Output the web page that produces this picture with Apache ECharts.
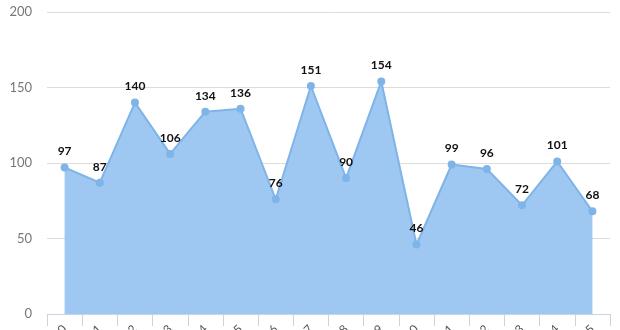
<!DOCTYPE html>
<html><head><meta charset="utf-8">
<script src="https://cdn.jsdelivr.net/npm/echarts@6/dist/echarts.min.js"></script>
<style>html,body{margin:0;padding:0;background:#fff}#c{width:620px;height:330px}</style>
</head><body><div id="c"></div>
<script>
const categories = ['Item 10','Item 11','Item 12','Item 13','Item 14','Item 15','Item 16','Item 17','Item 18','Item 19','Item 20','Item 21','Item 22','Item 23','Item 24','Item 25'];
const values = [97, 87, 140, 106, 134, 136, 76, 151, 90, 154, 46, 99, 96, 72, 101, 68];
const yTicks = {min: 0, max: 200, interval: 50};

const chart = echarts.init(document.getElementById('c'), null, {renderer: 'canvas'});
chart.setOption({
  animation: false,
  grid: {left: 47, right: 10, top: 12, bottom: 16, containLabel: false, outerBoundsMode: 'none'},
  xAxis: {
    type: 'category', data: categories, boundaryGap: true,
    axisLine: {lineStyle: {color: '#c9d3e6'}},
    axisTick: {show: true, length: 12, lineStyle: {color: '#c9d3e6'}},
    axisLabel: {rotate: 45, color: '#555', fontSize: 12, margin: 13, fontFamily: 'Lato'}
  },
  yAxis: {
    type: 'value', min: yTicks.min, max: yTicks.max, interval: yTicks.interval,
    axisLine: {show: false}, axisTick: {show: false},
    axisLabel: {color: '#777', fontSize: 13, margin: 15, fontFamily: 'Lato'},
    splitLine: {lineStyle: {color: '#dcdcdc'}}
  },
  series: [{
    type: 'line', data: values,
    symbol: 'circle', symbolSize: 8,
    itemStyle: {color: '#7fb4e8'},
    lineStyle: {color: '#7fb4e8', width: 2},
    areaStyle: {color: '#9ec8f1', opacity: 1},
    label: {show: true, position: 'top', color: '#111', fontWeight: 'bold', fontSize: 12, fontFamily: 'Lato', distance: 6}
  }]
});
</script></body></html>
